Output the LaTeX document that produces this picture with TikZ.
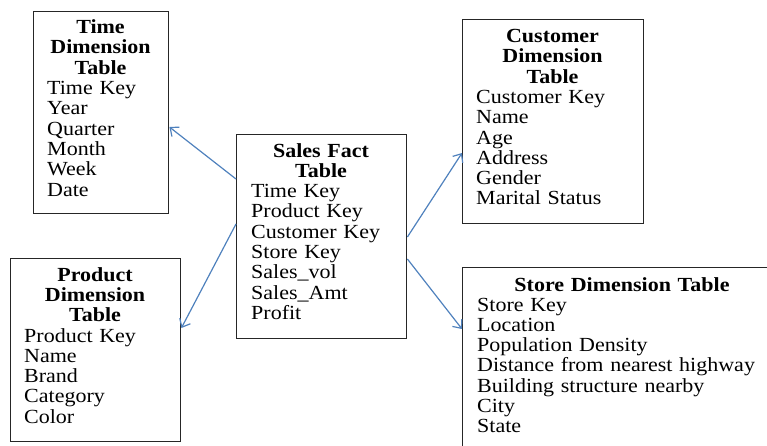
\documentclass[tikz,border=0pt]{standalone}
\usepackage{fontspec}
\setmainfont{Liberation Serif}[FakeStretch=1.1]
\usetikzlibrary{arrows.meta}

\tikzset{
  x=1pt, y=-1pt,
  tablebox/.style={draw=black!85, line width=1.4pt, inner sep=0pt, anchor=north west},
  titletext/.style={inner sep=0pt, anchor=base, align=center,
    font=\fontsize{20}{20.3}\selectfont\bfseries},
  fieldtext/.style={inner sep=0pt, anchor=base west, align=left,
    font=\fontsize{20}{20.3}\selectfont},
  link/.style={draw={rgb,255:red,79;green,129;blue,189}, line width=1.2pt,
    -{Straight Barb[length=7pt,width=12pt]}},
}

\begin{document}
\begin{tikzpicture}
\useasboundingbox (0,0) rectangle (767,445);
\clip (0,0) rectangle (767,445);

% Time dimension
\node[tablebox, minimum width=135pt, minimum height=202pt] (time) at (33,11) {};
\node[titletext, text width=135pt] (timetitle) at (100.5,33.5) {Time\\Dimension\\Table};
\node[fieldtext, text width=120pt] (timefields) at (47,94.5)
  {Time Key\\Year\\Quarter\\Month\\Week\\Date};

% Product dimension
\node[tablebox, minimum width=170pt, minimum height=183pt] (product) at (10,258) {};
\node[titletext, text width=170pt] (producttitle) at (95,281) {Product\\Dimension\\Table};
\node[fieldtext, text width=150pt] (productfields) at (24,342)
  {Product Key\\Name\\Brand\\Category\\Color};

% Sales fact
\node[tablebox, minimum width=170pt, minimum height=204pt] (sales) at (236,134) {};
\node[titletext, text width=170pt] (salestitle) at (321,157) {Sales Fact\\Table};
\node[fieldtext, text width=150pt] (salesfields) at (251,197.6)
  {Time Key\\Product Key\\Customer Key\\Store Key\\Sales\_vol\\Sales\_Amt\\Profit};

% Customer dimension
\node[tablebox, minimum width=181pt, minimum height=204pt] (customer) at (462,19) {};
\node[titletext, text width=181pt] (customertitle) at (552.5,42.5) {Customer\\Dimension\\Table};
\node[fieldtext, text width=160pt] (customerfields) at (476,103.4)
  {Customer Key\\Name\\Age\\Address\\Gender\\Marital Status};

% Store dimension
\node[tablebox, minimum width=320pt, minimum height=200pt] (store) at (462,267) {};
\node[titletext, text width=320pt] (storetitle) at (622,291) {Store Dimension Table};
\node[fieldtext, text width=300pt] (storefields) at (477,311)
  {Store Key\\Location\\Population Density\\Distance from nearest highway\\Building structure nearby\\City\\State};

% Links from the fact table to the dimensions
\draw[link] ([yshift=-45pt]sales.north west) -- ([yshift=-116pt]time.north east);
\draw[link] ([yshift=-90pt]sales.north west) -- ([yshift=-70pt]product.north east);
\draw[link] ([yshift=-103pt]sales.north east) -- ([yshift=-134pt]customer.north west);
\draw[link] ([yshift=-125pt]sales.north east) -- ([yshift=-62pt]store.north west);
\end{tikzpicture}
\end{document}
